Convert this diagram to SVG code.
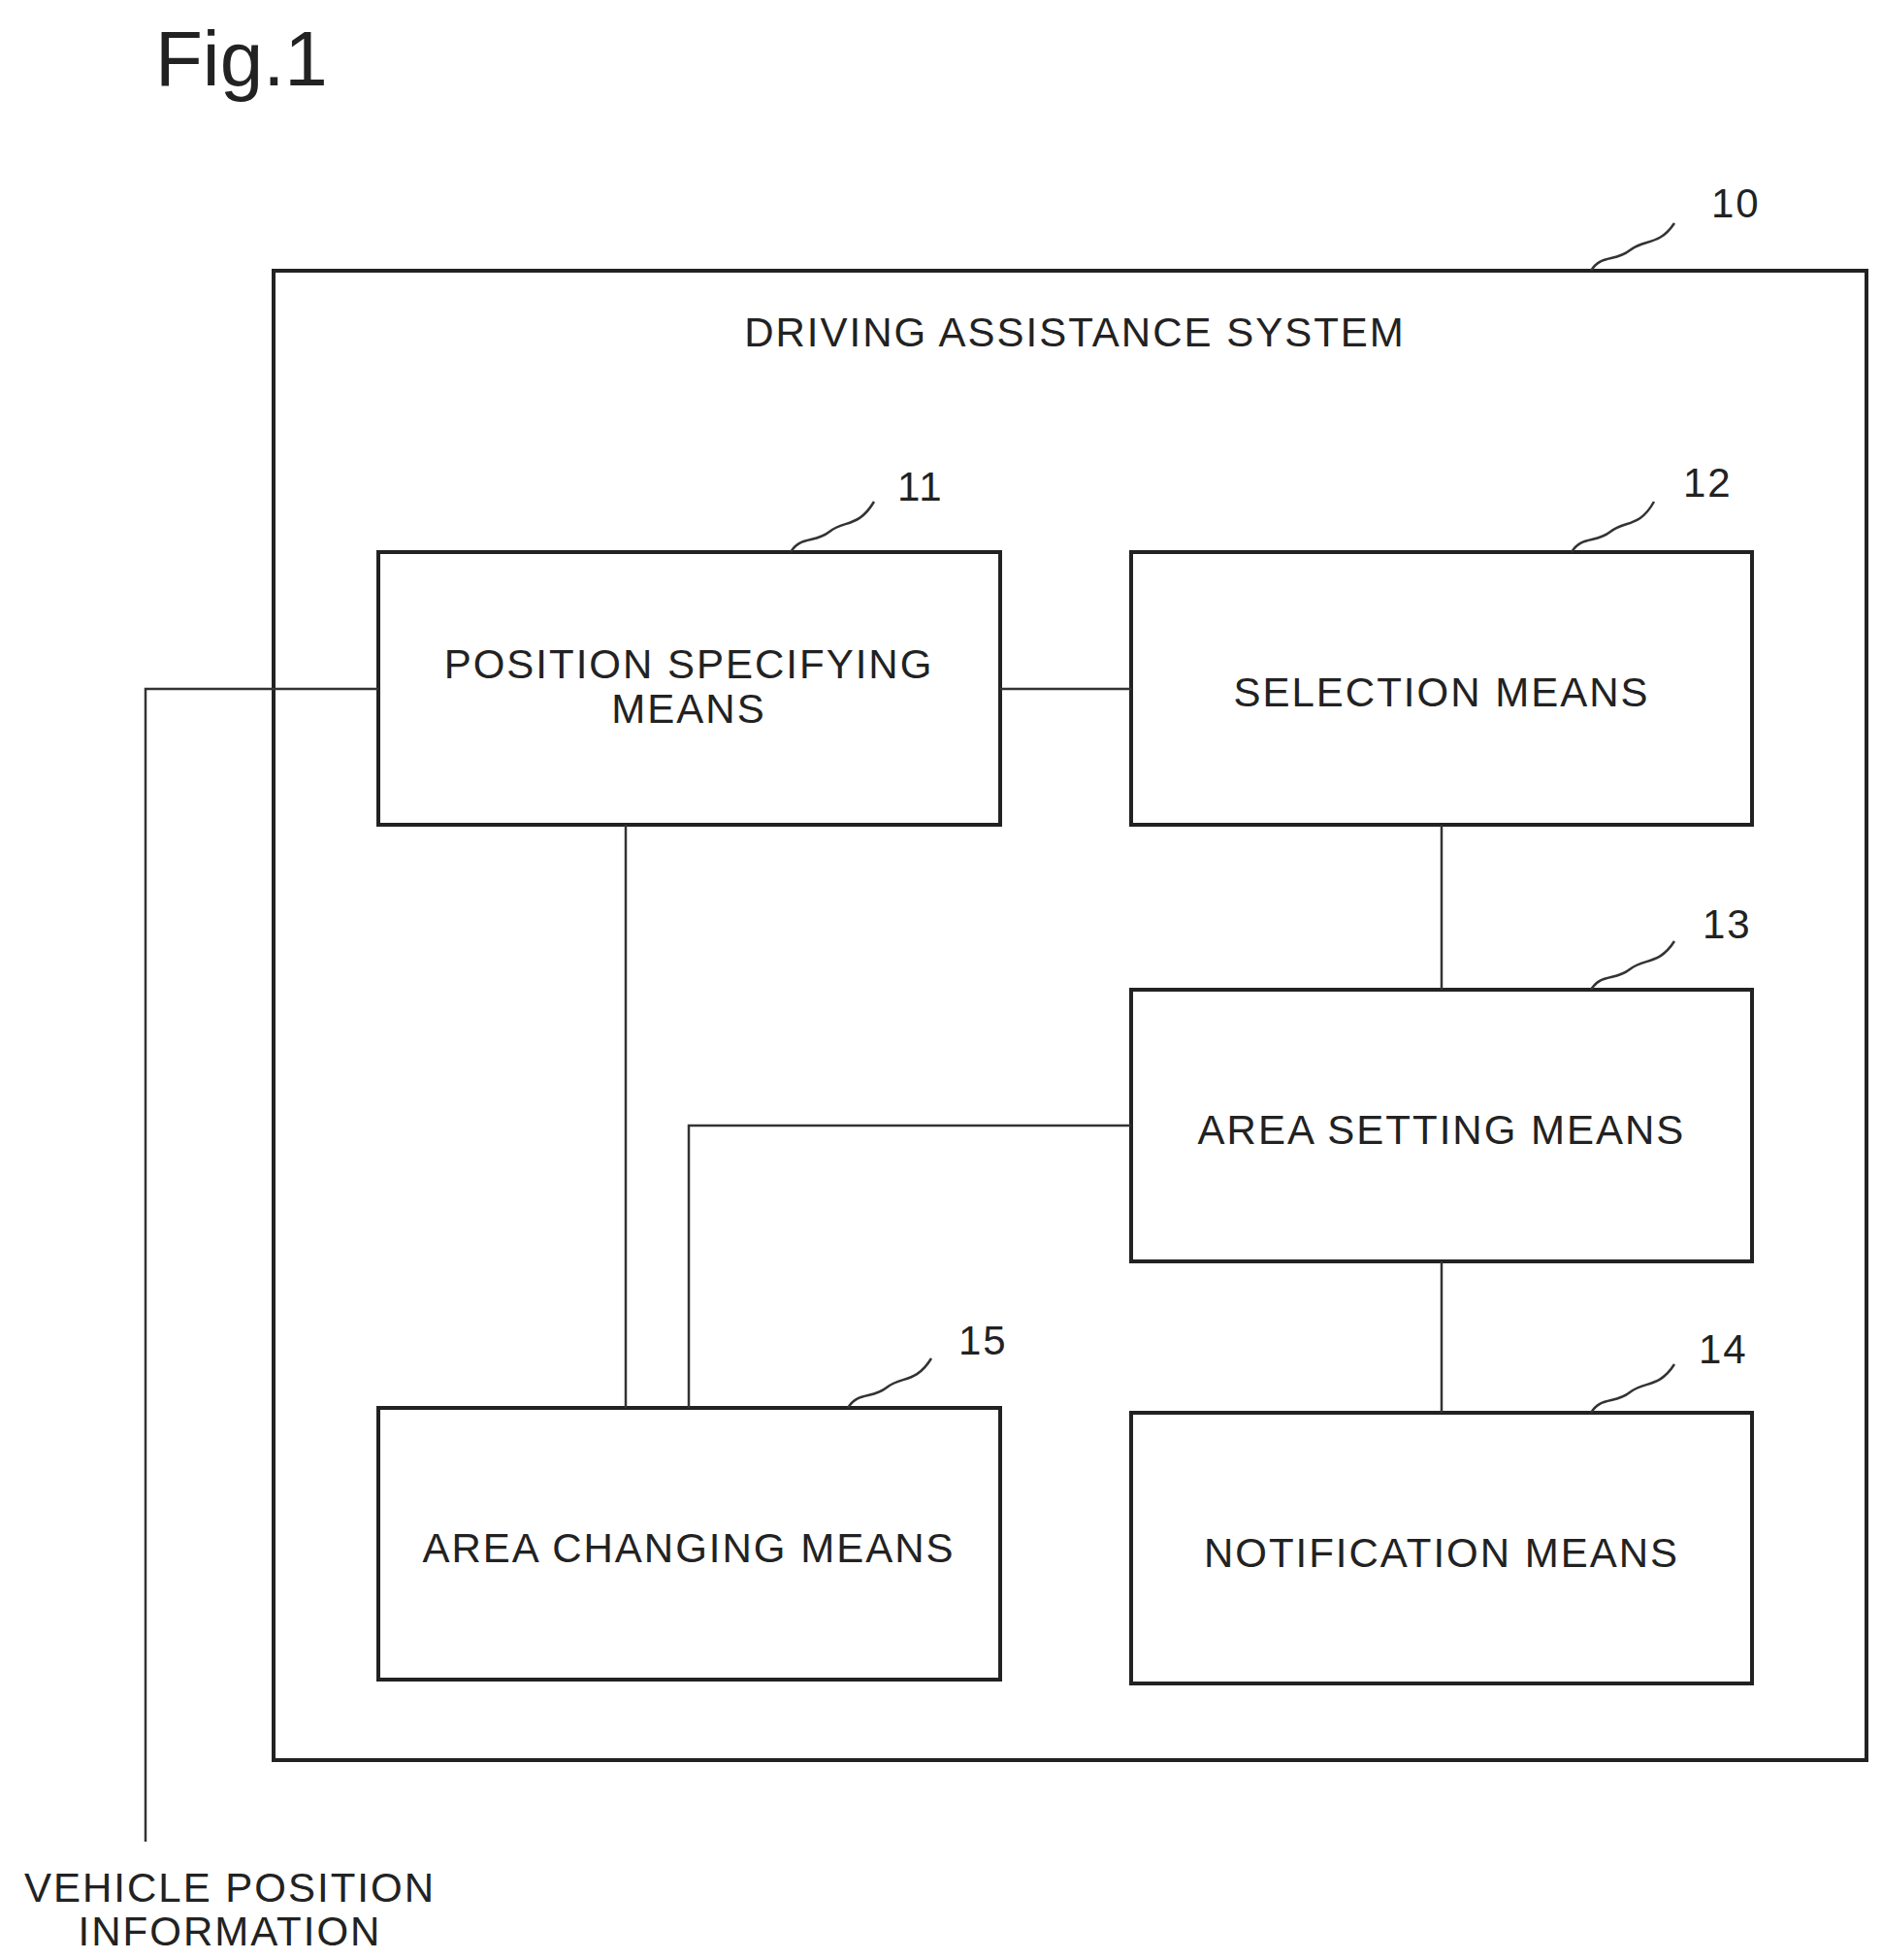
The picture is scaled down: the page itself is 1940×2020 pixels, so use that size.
<svg xmlns="http://www.w3.org/2000/svg" width="1940" height="2020" viewBox="0 0 1940 2020">
<style>
.b{fill:none;stroke:#222;stroke-width:4}
.l{fill:none;stroke:#333;stroke-width:2.5}
text{font-family:"Liberation Sans",Arial,sans-serif;fill:#222;font-size:42px;letter-spacing:2px}
.m{text-anchor:middle}
</style>
<rect width="1940" height="2020" fill="#fff"/>
<text x="160" y="88" style="font-size:80px;letter-spacing:0">Fig.1</text>
<g id="n10">
<rect class="b" x="282" y="279" width="1642" height="1535"/>
<text class="m" x="1108" y="357">DRIVING ASSISTANCE SYSTEM</text>
<path class="l" d="M1640 279 C1650 262 1665 270 1680 258 C1695 246 1710 254 1726 230"/>
<text x="1764" y="224">10</text>
</g>
<g id="n11">
<rect class="b" x="390" y="569" width="641" height="281"/>
<text class="m" x="710" y="699">POSITION SPECIFYING</text>
<text class="m" x="710" y="745">MEANS</text>
<path class="l" d="M815 569 C825 552 840 560 855 548 C870 536 885 544 901 517"/>
<text x="925" y="516">11</text>
</g>
<g id="n12">
<rect class="b" x="1166" y="569" width="640" height="281"/>
<text class="m" x="1486" y="728">SELECTION MEANS</text>
<path class="l" d="M1620 569 C1630 552 1645 560 1660 548 C1675 536 1690 544 1705 517"/>
<text x="1735" y="512">12</text>
</g>
<g id="n13">
<rect class="b" x="1166" y="1020" width="640" height="280"/>
<text class="m" x="1486" y="1179">AREA SETTING MEANS</text>
<path class="l" d="M1640 1020 C1650 1003 1665 1011 1680 999 C1695 987 1710 995 1726 970"/>
<text x="1755" y="967">13</text>
</g>
<g id="n14">
<rect class="b" x="1166" y="1456" width="640" height="279"/>
<text class="m" x="1486" y="1615">NOTIFICATION MEANS</text>
<path class="l" d="M1640 1456 C1650 1439 1665 1447 1680 1435 C1695 1423 1710 1431 1726 1406"/>
<text x="1751" y="1405">14</text>
</g>
<g id="n15">
<rect class="b" x="390" y="1451" width="641" height="280"/>
<text class="m" x="710" y="1610">AREA CHANGING MEANS</text>
<path class="l" d="M874 1451 C884 1434 899 1442 914 1430 C929 1418 944 1426 960 1400"/>
<text x="988" y="1396">15</text>
</g>
<g id="ext">
<text class="m" x="237" y="1960">VEHICLE POSITION</text>
<text class="m" x="237" y="2005">INFORMATION</text>
</g>
<g id="connectors">
<path class="l" d="M150 1898 V710 H390"/>
<path class="l" d="M1031 710 H1166"/>
<path class="l" d="M1486 850 V1020"/>
<path class="l" d="M1486 1300 V1456"/>
<path class="l" d="M645 850 V1451"/>
<path class="l" d="M1166 1160 H710 V1451"/>
</g>
</svg>
